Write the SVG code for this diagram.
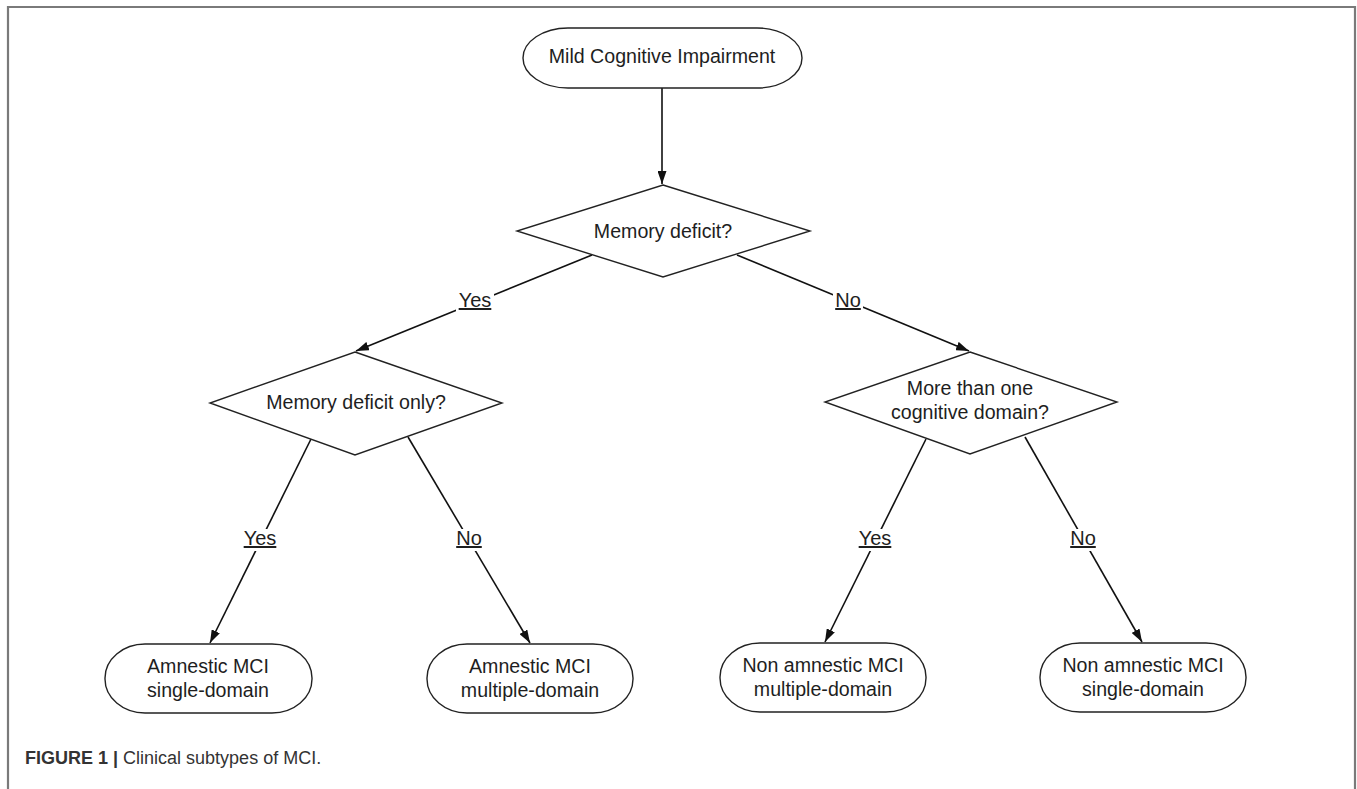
<svg xmlns="http://www.w3.org/2000/svg" width="1357" height="789" viewBox="0 0 1357 789">
<style>
.t{font-family:"Liberation Sans",Arial,sans-serif;font-size:19.6px;fill:#1e1e1e;text-anchor:middle}
.shape{fill:#fff;stroke:#222;stroke-width:1.4}
.edge{stroke:#111;stroke-width:1.6;fill:none}
.lbl{font-family:"Liberation Sans",Arial,sans-serif;font-size:20px;fill:#1e1e1e;text-anchor:middle;text-decoration:underline}
.bg{fill:#fff}
.frame{stroke:#7a7a7a;stroke-width:2.2;fill:none}
.cap{font-family:"Liberation Sans",Arial,sans-serif;font-size:18px;fill:#333}
</style>
<defs>
<marker id="arr" viewBox="0 0 13 9" refX="13" refY="4.5" markerWidth="13" markerHeight="9" markerUnits="userSpaceOnUse" orient="auto">
<path d="M0,0 L13,4.5 L0,9 z" fill="#111"/>
</marker>
</defs>
<rect width="1357" height="789" fill="#fff"/>
<path class="frame" d="M8,789 L8,7 L1355,7 L1355,789"/>

<g id="connectors">
<line class="edge" x1="662" y1="88" x2="662" y2="184" marker-end="url(#arr)"/>
<line class="edge" x1="592" y1="255" x2="356" y2="351" marker-end="url(#arr)"/>
<line class="edge" x1="737" y1="255" x2="969" y2="351" marker-end="url(#arr)"/>
<line class="edge" x1="311" y1="439" x2="210" y2="643" marker-end="url(#arr)"/>
<line class="edge" x1="408" y1="437" x2="530" y2="643" marker-end="url(#arr)"/>
<line class="edge" x1="926" y1="439" x2="825" y2="642" marker-end="url(#arr)"/>
<line class="edge" x1="1025" y1="437" x2="1142" y2="642" marker-end="url(#arr)"/>
<rect class="bg" x="456" y="290" width="38" height="22"/>
<text class="lbl" x="475" y="307">Yes</text>
<rect class="bg" x="833" y="290" width="30" height="22"/>
<text class="lbl" x="848" y="307">No</text>
<rect class="bg" x="241" y="529" width="38" height="22"/>
<text class="lbl" x="260" y="545">Yes</text>
<rect class="bg" x="454" y="529" width="30" height="22"/>
<text class="lbl" x="469" y="545">No</text>
<rect class="bg" x="856" y="529" width="38" height="22"/>
<text class="lbl" x="875" y="545">Yes</text>
<rect class="bg" x="1068" y="529" width="30" height="22"/>
<text class="lbl" x="1083" y="545">No</text>
</g>

<g id="n-mci">
<rect class="shape" x="523" y="28" width="279" height="60" rx="45" ry="30"/>
<text class="t" x="662" y="63">Mild Cognitive Impairment</text>
</g>
<g id="d-memory">
<polygon class="shape" points="663,185 810,231 663,277 517,231"/>
<text class="t" x="663" y="238">Memory deficit?</text>
</g>
<g id="d-memory-only">
<polygon class="shape" points="355,352 502,403 355,455 210,403"/>
<text class="t" x="356" y="409">Memory deficit only?</text>
</g>
<g id="d-more-domains">
<polygon class="shape" points="970,352 1117,402 970,454 825,402"/>
<text class="t" x="970" y="395">More than one</text>
<text class="t" x="970" y="419">cognitive domain?</text>
</g>
<g id="n-amci-sd">
<rect class="shape" x="105" y="644" width="207" height="69" rx="40" ry="34"/>
<text class="t" x="208" y="673">Amnestic MCI</text>
<text class="t" x="208" y="697">single-domain</text>
</g>
<g id="n-amci-md">
<rect class="shape" x="427" y="644" width="206" height="69" rx="40" ry="34"/>
<text class="t" x="530" y="673">Amnestic MCI</text>
<text class="t" x="530" y="697">multiple-domain</text>
</g>
<g id="n-namci-md">
<rect class="shape" x="720" y="643" width="206" height="69" rx="40" ry="34"/>
<text class="t" x="823" y="672">Non amnestic MCI</text>
<text class="t" x="823" y="696">multiple-domain</text>
</g>
<g id="n-namci-sd">
<rect class="shape" x="1040" y="643" width="206" height="69" rx="40" ry="34"/>
<text class="t" x="1143" y="672">Non amnestic MCI</text>
<text class="t" x="1143" y="696">single-domain</text>
</g>

<text class="cap" x="25" y="764"><tspan font-weight="bold">FIGURE 1 |</tspan> Clinical subtypes of MCI.</text>
</svg>
